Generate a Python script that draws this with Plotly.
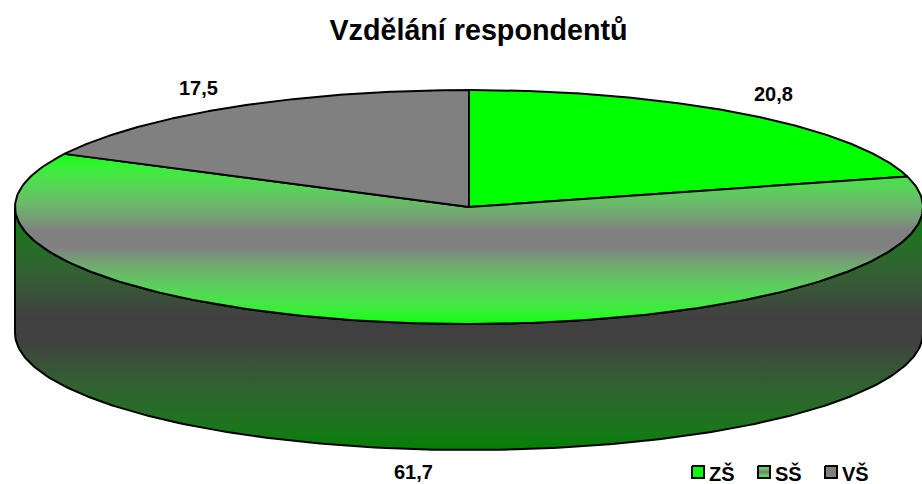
import math
import plotly.graph_objects as go

# Data
categories = ["ZŠ", "SŠ", "VŠ"]
values = [20.8, 61.7, 17.5]
value_labels = ["20,8", "61,7", "17,5"]
title_text = "Vzdělání respondentů"

# Geometry of the tilted disc (pixels of the 922x484 canvas)
CX, CY, RX, RY, DEPTH = 469, 207, 454, 117, 126
GREEN = (0, 255, 0)
GREY = (128, 128, 128)
DKGREEN = (0, 128, 0)
DKGREY = (64, 64, 64)
LINE = dict(color="black", width=2)
FONT = "Liberation Sans, Arial, sans-serif"


def to_lin(c):
    c /= 255
    return c / 12.92 if c <= 0.04045 else ((c + 0.055) / 1.055) ** 2.4


def to_srgb(c):
    c = 12.92 * c if c <= 0.0031308 else 1.055 * c ** (1 / 2.4) - 0.055
    return round(c * 255)


def reflected_scale(edge, mid, n=20):
    """Edge-mid-edge gradient blended in linear light, slight plateau in the middle."""
    stops = []
    for i in range(2 * n + 1):
        t = min(1, 1.12 * (1 - abs(i - n) / n))
        rgb = [to_srgb(to_lin(a) + (to_lin(b) - to_lin(a)) * t) for a, b in zip(edge, mid)]
        stops.append([i / (2 * n), "rgb(%d,%d,%d)" % tuple(rgb)])
    return stops


FACE_SCALE = reflected_scale(GREEN, GREY)
SIDE_SCALE = reflected_scale(DKGREEN, DKGREY)
SOLID = {"ZŠ": "rgb(0,255,0)", "VŠ": "rgb(128,128,128)"}


def arc(a0, a1, dy=0, n=240):
    xs, ys = [], []
    for i in range(n + 1):
        t = math.radians(a0 + (a1 - a0) * i / n)
        xs.append(CX + RX * math.sin(t))
        ys.append(CY + dy - RY * math.cos(t))
    return xs, ys


fig = go.Figure()

# Visible rim: the part of the disc that faces the viewer
total = sum(values)
sx0, sy0 = arc(90, 270)
sx1, sy1 = arc(270, 90, DEPTH)
fig.add_trace(go.Scatter(
    x=sx0 + sx1 + sx0[:1], y=sy0 + sy1 + sy0[:1], mode="lines", fill="toself",
    line=LINE, fillgradient=dict(type="vertical", colorscale=SIDE_SCALE),
    hoverinfo="skip", showlegend=False))

# Top faces, clockwise from 12 o'clock
start = 0.0
for name, v in zip(categories, values):
    end = start + v / total * 360
    ax, ay = arc(start, end)
    px = [CX] + ax + [CX]
    py = [CY] + ay + [CY]
    kw = dict(fillcolor=SOLID[name]) if name in SOLID else dict(
        fillgradient=dict(type="vertical", colorscale=FACE_SCALE))
    fig.add_trace(go.Scatter(x=px, y=py, mode="lines", fill="toself", line=LINE,
                             name=name, hoverinfo="skip", showlegend=False, **kw))
    start = end

# Value labels
label_pos = {"ZŠ": (773, 94), "SŠ": (413, 472), "VŠ": (198, 88)}
for name, lab in zip(categories, value_labels):
    x, y = label_pos[name]
    fig.add_annotation(x=x, y=y, text=f"<b>{lab}</b>", showarrow=False,
                       font=dict(family=FONT, size=20, color="black"))

# Legend
legend_x = {"ZŠ": 692, "SŠ": 758, "VŠ": 825}
for name in categories:
    x0 = legend_x[name]
    kw = dict(fillcolor=SOLID[name]) if name in SOLID else dict(
        fillgradient=dict(type="vertical", colorscale=FACE_SCALE))
    fig.add_trace(go.Scatter(
        x=[x0, x0 + 12, x0 + 12, x0, x0], y=[466, 466, 478, 478, 466],
        mode="lines", fill="toself", line=dict(color="black", width=2),
        hoverinfo="skip", showlegend=False, **kw))
    fig.add_annotation(x=x0 + 15, y=473, text=f"<b>{name}</b>", showarrow=False,
                       xanchor="left",
                       font=dict(family=FONT, size=20, color="black"))

fig.update_layout(
    width=922, height=484, margin=dict(l=0, r=0, t=0, b=0),
    paper_bgcolor="white", plot_bgcolor="white",
    title=dict(text=f"<b>{title_text}</b>", x=478.5 / 922, xanchor="center",
               y=1 - 30 / 484, yanchor="middle",
               font=dict(family=FONT, size=28.7, color="black")),
    xaxis=dict(range=[0, 922], visible=False, fixedrange=True),
    yaxis=dict(range=[484, 0], visible=False, fixedrange=True),
)

fig.write_html("out.html", config=dict(displayModeBar=False),
               post_script="document.body.style.margin='0';")
